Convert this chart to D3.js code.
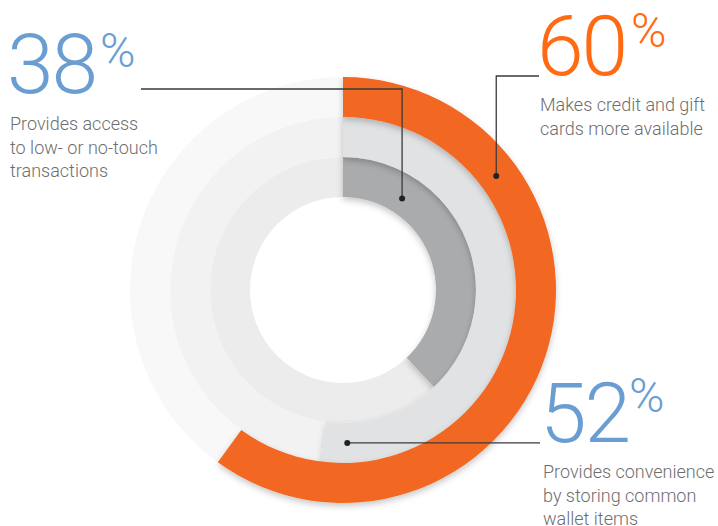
<!DOCTYPE html>
<html>
<head>
<meta charset="utf-8">
<script src="https://cdn.jsdelivr.net/npm/d3@7"></script>
<style>
  body { margin: 0; background: #fff; }
  svg { display: block; }
</style>
</head>
<body>
<svg id="chart"></svg>
<script>
// === Data ===
const categories = ["noTouch", "wallet", "giftCards"];   // inner -> outer
const values = [38, 52, 60];
const descriptions = [
  ["Provides access", "to low- or no-touch", "transactions"],
  ["Provides convenience", "by storing common", "wallet items"],
  ["Makes credit and gift", "cards more available"]
];

const ringColors = ["#a9abac", "#e1e2e4", "#f26722"];
const trackColors = ["#ececec", "#f2f2f2", "#f8f8f8"];
const numberColors = ["#6a9ed2", "#6a9ed2", "#ff6a13"];

const W = 718, H = 526;
const svg = d3.select("#chart").attr("width", W).attr("height", H);

const defs = svg.append("defs");
defs.append("filter").attr("id", "shadow")
  .attr("x", "-20%").attr("y", "-20%").attr("width", "140%").attr("height", "140%")
  .append("feDropShadow")
  .attr("dx", 0).attr("dy", 3).attr("stdDeviation", 3)
  .attr("flood-color", "#000").attr("flood-opacity", 0.22);

const cx = 343, cy = 290;
const g = svg.append("g").attr("transform", `translate(${cx},${cy})`);

const r = d3.scaleBand().domain(categories).range([93, 213]).padding(0);
const angle = d3.scaleLinear().domain([0, 100]).range([0, 2 * Math.PI]);

const arc = d3.arc()
  .innerRadius(d => r(d.cat))
  .outerRadius(d => r(d.cat) + r.bandwidth());

const rows = categories.map((cat, i) => ({ cat, value: values[i], i }));

// background tracks, outer first
g.selectAll(".track").data(rows.slice().reverse()).enter().append("path")
  .attr("class", "track")
  .attr("fill", d => trackColors[d.i])
  .attr("d", d => arc({ cat: d.cat, startAngle: 0, endAngle: 2 * Math.PI }));

// value arcs, inner first so outer shadows fall inward
g.selectAll(".bar").data(rows).enter().append("path")
  .attr("class", "bar")
  .attr("fill", d => ringColors[d.i])
  .attr("filter", "url(#shadow)")
  .attr("d", d => arc({ cat: d.cat, startAngle: 0, endAngle: angle(d.value) }));

// === Callouts ===
const font = "Roboto, 'Open Sans', sans-serif";
const lineColor = "#3a3a3a";

function dotPos(i, frac, dr) {
  const a = angle(values[i] * frac);
  const rr = r(categories[i]) + r.bandwidth() / 2 + dr;
  return [cx + rr * Math.sin(a), cy - rr * Math.cos(a)];
}

// 38% - leader: horizontal then down
const d0 = dotPos(0, 0.24, -4);
const y0 = 89;
svg.append("path").attr("fill", "none").attr("stroke", lineColor).attr("stroke-width", 1.3)
  .attr("d", `M141,${y0}H${d0[0]}V${d0[1]}`);
svg.append("circle").attr("cx", d0[0]).attr("cy", d0[1]).attr("r", 3).attr("fill", "#222");

// 60% - leader: from text left, down to ring
const d2 = dotPos(2, 0.247, -2);
svg.append("path").attr("fill", "none").attr("stroke", lineColor).attr("stroke-width", 1.3)
  .attr("d", `M539,76H${d2[0]}V${d2[1]}`);
svg.append("circle").attr("cx", d2[0]).attr("cy", d2[1]).attr("r", 3).attr("fill", "#222");

// 52% - leader: horizontal from ring to text
const d1 = dotPos(1, 0.953, 0);
svg.append("path").attr("fill", "none").attr("stroke", lineColor).attr("stroke-width", 1.3)
  .attr("d", `M${d1[0]},${d1[1]}H540`);
svg.append("circle").attr("cx", d1[0]).attr("cy", d1[1]).attr("r", 3).attr("fill", "#222");

// big numbers + descriptions
const labelPos = [
  { x: 7, base: 93, pctX: 100, pctBase: 67, descY: 130 },
  { x: 540, base: 442, pctX: 629, pctBase: 412, descY: 478 },
  { x: 537, base: 75, pctX: 631, pctBase: 47, descY: 111 }
];

labelPos.forEach((p, i) => {
  svg.append("text").attr("x", p.x).attr("y", p.base)
    .attr("font-family", font).attr("font-weight", 300).attr("font-size", 84)
    .attr("fill", numberColors[i]).attr("letter-spacing", -2).text(values[i]);
  svg.append("text").attr("x", p.pctX).attr("y", p.pctBase)
    .attr("font-family", font).attr("font-weight", 300).attr("font-size", 48)
    .attr("fill", numberColors[i]).text("%");
  const t = svg.append("text").attr("x", p.x + 3).attr("y", p.descY)
    .attr("font-family", font).attr("font-weight", 300).attr("font-size", 18)
    .attr("fill", "#6d6e70");
  descriptions[i].forEach((line, k) => {
    t.append("tspan").attr("x", p.x + 3).attr("dy", k === 0 ? 0 : 23.5).text(line);
  });
});
</script>
</body>
</html>
